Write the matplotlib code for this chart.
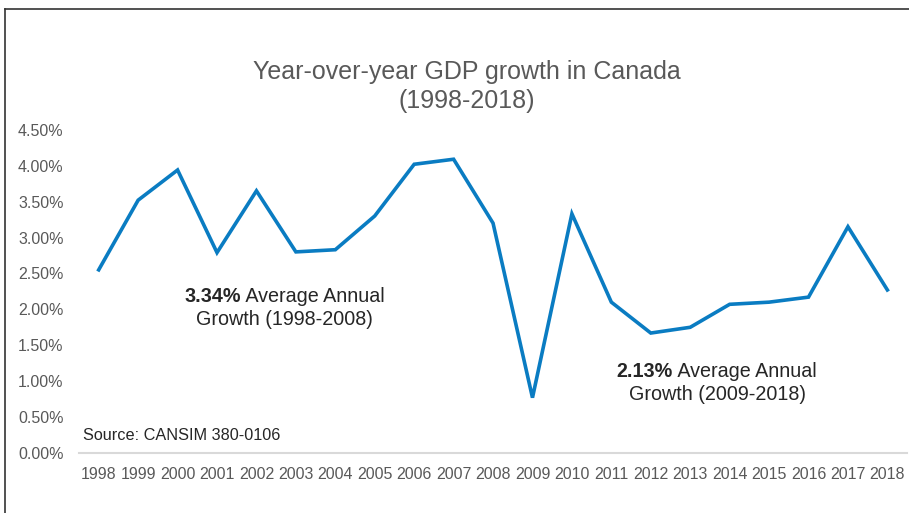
import matplotlib
matplotlib.use('Agg')
from matplotlib import pyplot as plt
from matplotlib.lines import Line2D
from matplotlib.ticker import PercentFormatter

plt.rcParams['font.family'] = ['Liberation Sans', 'DejaVu Sans']

# data
years = ['1998', '1999', '2000', '2001', '2002', '2003', '2004', '2005', '2006', '2007', '2008',
         '2009', '2010', '2011', '2012', '2013', '2014', '2015', '2016', '2017', '2018']
growth = [2.55, 3.52, 3.94, 2.79, 3.65, 2.80, 2.83, 3.30, 4.02, 4.09, 3.20,
          0.77, 3.33, 2.10, 1.67, 1.75, 2.07, 2.10, 2.17, 3.15, 2.27]
y_ticks = [0.0, 0.5, 1.0, 1.5, 2.0, 2.5, 3.0, 3.5, 4.0, 4.5]

line_color = '#0a7cc2'
grey_text = '#595959'
dark_text = '#262626'

fig = plt.figure(figsize=(9.09, 5.13), dpi=100)
ax = fig.add_axes([0.0869, 0.117, 0.911, 0.630])

x = list(range(len(years)))
ax.plot(x, growth, color=line_color, linewidth=2.6, solid_joinstyle='miter')

ax.set_xlim(-0.5, len(years) - 0.5)
ax.set_ylim(0, 4.5)
ax.set_xticks(x)
ax.set_xticklabels(years)
ax.set_yticks(y_ticks)
ax.yaxis.set_major_formatter(PercentFormatter(decimals=2))

for side in ['top', 'right', 'left']:
    ax.spines[side].set_visible(False)
ax.spines['bottom'].set_color('#d9d9d9')
ax.spines['bottom'].set_linewidth(1.5)
ax.tick_params(axis='both', length=0, labelsize=11.5, labelcolor=grey_text)
ax.tick_params(axis='x', pad=10)
ax.tick_params(axis='y', pad=11)

# title
fig.text(0.514, 1 - 72 / 513, 'Year-over-year GDP growth in Canada', ha='center', va='center',
         fontsize=18, color=grey_text)
fig.text(0.514, 1 - 101 / 513, '(1998-2018)', ha='center', va='center',
         fontsize=18, color=grey_text)

# period averages
ax.text(3.61, 2.173, '3.34%', ha='right', va='center', fontsize=14.2, fontweight='bold', color=dark_text)
ax.text(3.61, 2.173, ' Average Annual', ha='left', va='center', fontsize=14.2, color=dark_text)
ax.text(4.72, 1.853, 'Growth (1998-2008)', ha='center', va='center', fontsize=14.2, color=dark_text)

ax.text(14.56, 1.128, '2.13%', ha='right', va='center', fontsize=14.2, fontweight='bold', color=dark_text)
ax.text(14.56, 1.128, ' Average Annual', ha='left', va='center', fontsize=14.2, color=dark_text)
ax.text(15.68, 0.808, 'Growth (2009-2018)', ha='center', va='center', fontsize=14.2, color=dark_text)

ax.text(-0.4, 0.237, 'Source: CANSIM 380-0106', ha='left', va='center', fontsize=11.7, color=dark_text)

# frame on left and top of the figure
fig.add_artist(Line2D([4.5 / 909, 4.5 / 909], [0, 1 - 9 / 513], color='#333333', linewidth=1.2))
fig.add_artist(Line2D([4.5 / 909, 1], [1 - 9 / 513, 1 - 9 / 513], color='#333333', linewidth=1.2))

fig.savefig('out.png', dpi=100)
